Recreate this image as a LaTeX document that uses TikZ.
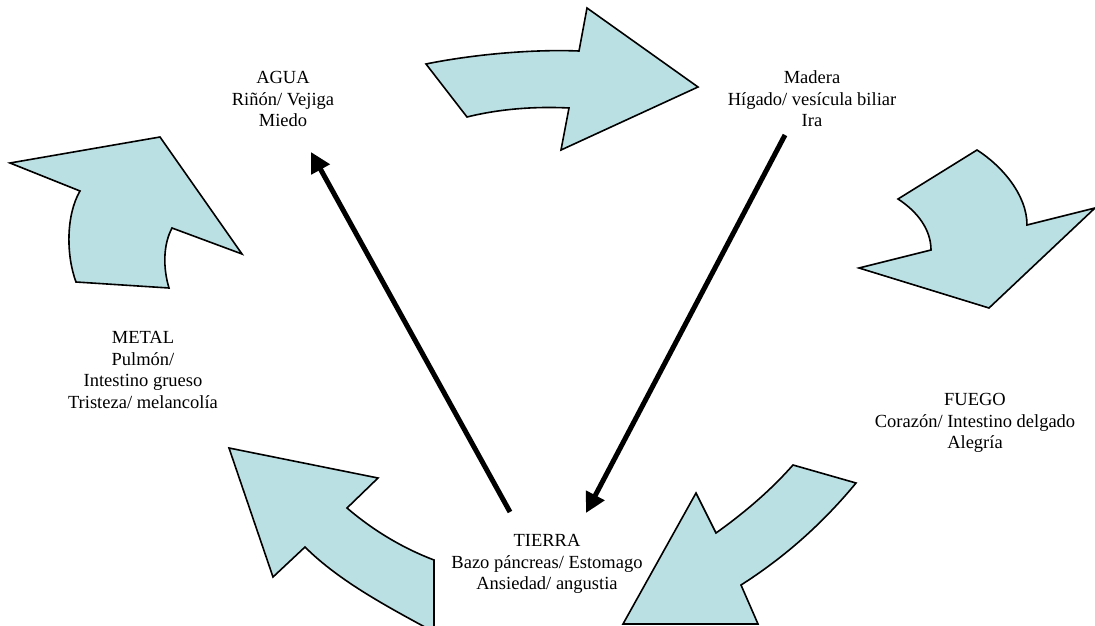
\documentclass[tikz,border=0pt]{standalone}
\usepackage{fontspec}
\setmainfont{Liberation Serif}
\usetikzlibrary{arrows.meta}
\definecolor{flecha}{RGB}{187,224,227}
\begin{document}
\begin{tikzpicture}[x=1pt,y=-1pt]
\tikzset{Flecha/.style={fill=flecha,draw=black,line width=1.6pt,line join=miter}}
\tikzset{Texto/.style={align=center,inner sep=0pt,font=\fontsize{18.5}{21.5}\selectfont}}
\tikzset{Linea/.style={line width=5pt,-{Triangle[length=20pt,width=20pt]}}}
\useasboundingbox (0,0) rectangle (1095,626);
\clip (0,0) rectangle (1095,626);
\fill[white] (0,0) rectangle (1095,626);
\node[Texto] (agua) at (283,99) {AGUA\\Riñón/ Vejiga\\Miedo};
\node[Texto] (madera) at (812,99) {Madera\\Hígado/ vesícula biliar\\Ira};
\node[Texto] (fuego) at (975,423) {FUEGO\\Corazón/ Intestino delgado\\Alegría};
\node[Texto] (tierra) at (547,564) {TIERRA\\Bazo páncreas/ Estomago\\Ansiedad/ angustia};
\node[Texto] (metal) at (143,370) {METAL\\Pulmón/\\Intestino grueso\\Tristeza/ melancolía};
\draw[Flecha] (426,64) .. controls (470,55) and (530,49) .. (579,51) -- (587,8) -- (698,87)
  -- (561,150) -- (569,108) .. controls (530,106) and (495,110) .. (467,117) -- cycle;
\draw[Flecha] (977,150) .. controls (1002,166) and (1027,195) .. (1027,225) -- (1095,208)
  -- (989,308) -- (859,268) -- (931,250) .. controls (931,230) and (918,212) .. (898,199) -- cycle;
\draw[Flecha] (793,465) -- (856,483) .. controls (823,523) and (785,557) .. (741,585)
  -- (758,624) -- (623,624) -- (696,493) -- (716,533) .. controls (744,513) and (770,491) .. (793,465) -- cycle;
\draw[Flecha] (229,448) -- (378,478) -- (347,508) .. controls (375,532) and (405,549) .. (434,560)
  -- (434,632) .. controls (390,608) and (340,582) .. (305,547) -- (273,577) -- cycle;
\draw[Flecha] (10,163) -- (160,137) -- (242,254) -- (172,228) .. controls (163,245) and (163,268) .. (169,288)
  -- (76,282) .. controls (66,255) and (66,215) .. (80,191) -- cycle;
\coordinate (t1) at (510,512);
\coordinate (a1) at (311,152);
\coordinate (m1) at (785,135);
\coordinate (t2) at (586,513);
\draw[Linea] (t1) -- (a1);
\draw[Linea] (m1) -- (t2);
\end{tikzpicture}
\end{document}
